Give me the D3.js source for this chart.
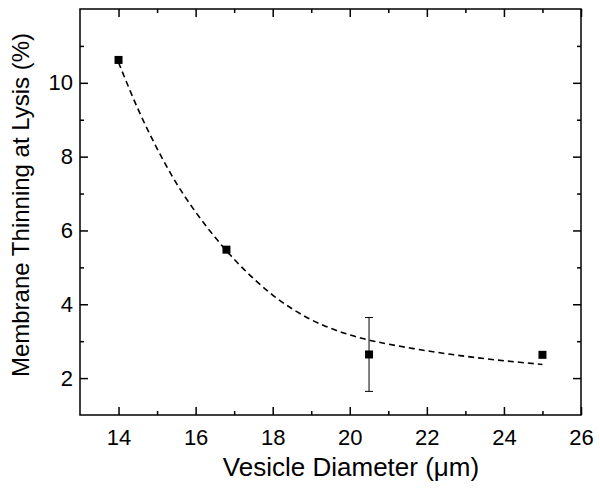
<!DOCTYPE html>
<html>
<head>
<meta charset="utf-8">
<script src="https://cdn.jsdelivr.net/npm/d3@7"></script>
<style>
  html, body { margin: 0; padding: 0; background: #fff; }
  svg { display: block; font-family: "Liberation Sans", Arial, sans-serif; }
</style>
</head>
<body>
<svg id="chart" width="600" height="498"></svg>
<script>
// Measured data points
const diameters = [14.0, 16.8, 20.5, 25.0];
const thinning = [10.62, 5.48, 2.64, 2.63];
const errors = [0, 0, 1.0, 0];

// Dashed fit curve
const fitX = [14, 14.5, 15, 15.5, 16, 16.5, 17, 17.5, 18, 18.5, 19, 19.5, 20, 20.5, 21, 22, 23, 24, 25];
const fitY = [10.55, 9.30, 8.22, 7.28, 6.50, 5.82, 5.22, 4.70, 4.25, 3.88, 3.58, 3.35, 3.17, 3.03, 2.92, 2.74, 2.59, 2.47, 2.37];

// Ticks
const xMajor = [14, 16, 18, 20, 22, 24, 26];
const xMinor = [15, 17, 19, 21, 23, 25];
const yMajor = [2, 4, 6, 8, 10];
const yMinor = [3, 5, 7, 9, 11];

const xTitle = "Vesicle Diameter (\u03bcm)";
const yTitle = "Membrane Thinning at Lysis (%)";

const svg = d3.select("#chart");
const L = 80, R = 581, T = 9, B = 415;

const x = d3.scaleLinear().domain([13, 26]).range([L, R]);
const y = d3.scaleLinear().domain([1, 12]).range([B, T]);

function styleAxis(g) {
  g.select(".domain").remove();
  g.selectAll(".tick line").attr("stroke", "#000").attr("stroke-width", 1.5);
  g.selectAll("text").attr("font-size", 22).attr("fill", "#000")
    .attr("font-family", "'Liberation Sans', Arial, sans-serif");
}

// bottom
svg.append("g").attr("transform", `translate(0,${B})`)
  .call(d3.axisBottom(x).tickValues(xMajor).tickFormat(d3.format("d")).tickSizeInner(-8).tickSizeOuter(0).tickPadding(14))
  .call(styleAxis);
svg.append("g").attr("transform", `translate(0,${B})`)
  .call(d3.axisBottom(x).tickValues(xMinor).tickFormat("").tickSizeInner(-4).tickSizeOuter(0))
  .call(styleAxis);
// top
svg.append("g").attr("transform", `translate(0,${T})`)
  .call(d3.axisTop(x).tickValues(xMajor).tickFormat("").tickSizeInner(-8).tickSizeOuter(0))
  .call(styleAxis);
svg.append("g").attr("transform", `translate(0,${T})`)
  .call(d3.axisTop(x).tickValues(xMinor).tickFormat("").tickSizeInner(-4).tickSizeOuter(0))
  .call(styleAxis);
// left
svg.append("g").attr("transform", `translate(${L},0)`)
  .call(d3.axisLeft(y).tickValues(yMajor).tickFormat(d3.format("d")).tickSizeInner(-8).tickSizeOuter(0).tickPadding(7))
  .call(styleAxis);
svg.append("g").attr("transform", `translate(${L},0)`)
  .call(d3.axisLeft(y).tickValues(yMinor).tickFormat("").tickSizeInner(-4).tickSizeOuter(0))
  .call(styleAxis);
// right
svg.append("g").attr("transform", `translate(${R},0)`)
  .call(d3.axisRight(y).tickValues(yMajor).tickFormat("").tickSizeInner(-8).tickSizeOuter(0))
  .call(styleAxis);
svg.append("g").attr("transform", `translate(${R},0)`)
  .call(d3.axisRight(y).tickValues(yMinor).tickFormat("").tickSizeInner(-4).tickSizeOuter(0))
  .call(styleAxis);

// frame
svg.append("rect").attr("x", L).attr("y", T).attr("width", R - L).attr("height", B - T)
  .attr("fill", "none").attr("stroke", "#000").attr("stroke-width", 1.5);

// fit curve
const fitData = fitX.map((v, i) => [v, fitY[i]]);
svg.append("path").datum(fitData)
  .attr("d", d3.line().x(d => x(d[0])).y(d => y(d[1])).curve(d3.curveCatmullRom))
  .attr("fill", "none").attr("stroke", "#000").attr("stroke-width", 1.6)
  .attr("stroke-dasharray", "6,4");

// error bars
const pts = diameters.map((d, i) => ({x: d, y: thinning[i], e: errors[i]}));
const eb = svg.append("g").attr("stroke", "#000").attr("stroke-width", 1);
pts.filter(p => p.e > 0).forEach(p => {
  eb.append("line").attr("x1", x(p.x)).attr("x2", x(p.x)).attr("y1", y(p.y - p.e)).attr("y2", y(p.y + p.e));
  [p.y - p.e, p.y + p.e].forEach(v => {
    eb.append("line").attr("x1", x(p.x) - 4).attr("x2", x(p.x) + 4).attr("y1", y(v)).attr("y2", y(v));
  });
});

// markers
svg.append("g").selectAll("rect").data(pts).join("rect")
  .attr("x", d => x(d.x) - 4).attr("y", d => y(d.y) - 4)
  .attr("width", 8).attr("height", 8).attr("fill", "#000");

// titles
svg.append("text").attr("x", 351).attr("y", 476)
  .attr("text-anchor", "middle").attr("font-size", 26).attr("fill", "#000")
  .text(xTitle);
svg.append("text").attr("transform", `translate(29,205) rotate(-90)`)
  .attr("text-anchor", "middle").attr("font-size", 24).attr("fill", "#000")
  .text(yTitle);
</script>
</body>
</html>
